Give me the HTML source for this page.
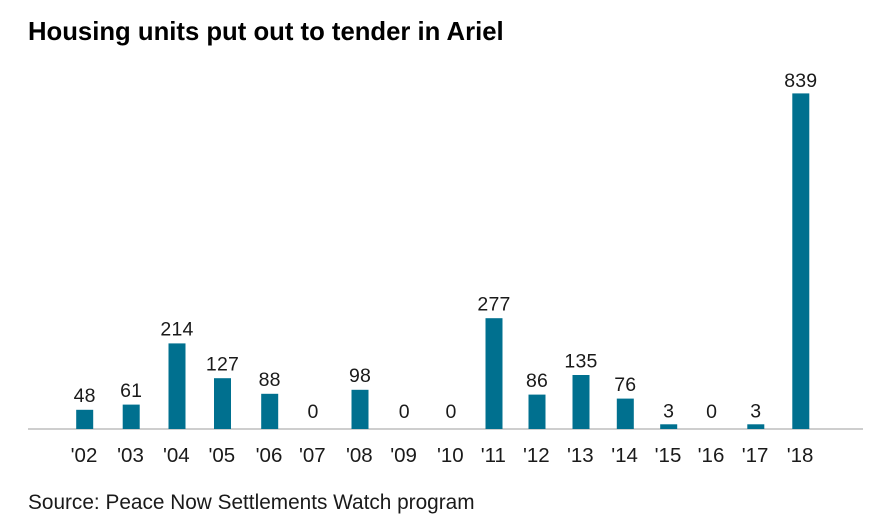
<!DOCTYPE html>
<html>
<head>
<meta charset="utf-8">
<style>
  html, body { margin: 0; padding: 0; background: #ffffff; }
  body { width: 882px; height: 524px; overflow: hidden; }
  svg { display: block; }
  .title { font-family: "Liberation Sans", sans-serif; font-weight: bold; font-size: 25.7px; fill: #000; }
  .val { font-family: "Liberation Sans", sans-serif; font-size: 19.5px; fill: #1a1a1a; letter-spacing: 0.2px; }
  .tick { font-family: "Liberation Sans", sans-serif; font-size: 20.5px; fill: #1a1a1a; }
  .src { font-family: "Liberation Sans", sans-serif; font-size: 20.8px; fill: #1a1a1a; }
</style>
</head>
<body>
<svg width="882" height="524" viewBox="0 0 882 524" xmlns="http://www.w3.org/2000/svg">
  <text class="title" x="28" y="40">Housing units put out to tender in Ariel</text>

  <!-- axis line -->
  <line x1="28" y1="429" x2="863" y2="429" stroke="#bdbdbd" stroke-width="1.5"/>

  <g fill="#00708f">
    <rect x="76.2" y="409.8" width="17" height="19.2"/>
    <rect x="122.7" y="404.6" width="17" height="24.4"/>
    <rect x="168.5" y="343.4" width="17" height="85.6"/>
    <rect x="214" y="378.2" width="17" height="50.8"/>
    <rect x="261.2" y="393.8" width="17" height="35.2"/>
    <rect x="351.5" y="389.8" width="17" height="39.2"/>
    <rect x="485.5" y="318.2" width="17" height="110.8"/>
    <rect x="528.5" y="394.6" width="17" height="34.4"/>
    <rect x="572.5" y="375" width="17" height="54"/>
    <rect x="616.8" y="398.6" width="17" height="30.4"/>
    <rect x="660.2" y="424.3" width="17" height="4.7"/>
    <rect x="747.3" y="424.3" width="17" height="4.7"/>
    <rect x="792.3" y="93.4" width="17" height="335.6"/>
  </g>

  <g class="val" text-anchor="middle">
    <text x="84.7" y="402">48</text>
    <text x="131.2" y="397">61</text>
    <text x="177" y="335.5">214</text>
    <text x="222.5" y="370.5">127</text>
    <text x="269.7" y="386">88</text>
    <text x="313" y="418">0</text>
    <text x="360" y="382">98</text>
    <text x="404.3" y="418">0</text>
    <text x="451" y="418">0</text>
    <text x="494" y="310.5">277</text>
    <text x="537" y="387">86</text>
    <text x="581" y="367.5">135</text>
    <text x="625.3" y="391">76</text>
    <text x="668.7" y="417.3">3</text>
    <text x="711.7" y="418">0</text>
    <text x="755.8" y="417.3">3</text>
    <text x="800.8" y="87">839</text>
  </g>

  <g class="tick" text-anchor="middle">
    <text x="84" y="462">'02</text>
    <text x="130.5" y="462">'03</text>
    <text x="176.3" y="462">'04</text>
    <text x="221.8" y="462">'05</text>
    <text x="269" y="462">'06</text>
    <text x="312.3" y="462">'07</text>
    <text x="359.3" y="462">'08</text>
    <text x="403.6" y="462">'09</text>
    <text x="450.3" y="462">'10</text>
    <text x="493.3" y="462">'11</text>
    <text x="536.3" y="462">'12</text>
    <text x="580.3" y="462">'13</text>
    <text x="624.6" y="462">'14</text>
    <text x="668" y="462">'15</text>
    <text x="711" y="462">'16</text>
    <text x="755.1" y="462">'17</text>
    <text x="800.1" y="462">'18</text>
  </g>

  <text class="src" x="28" y="509">Source: Peace Now Settlements Watch program</text>
</svg>
</body>
</html>
